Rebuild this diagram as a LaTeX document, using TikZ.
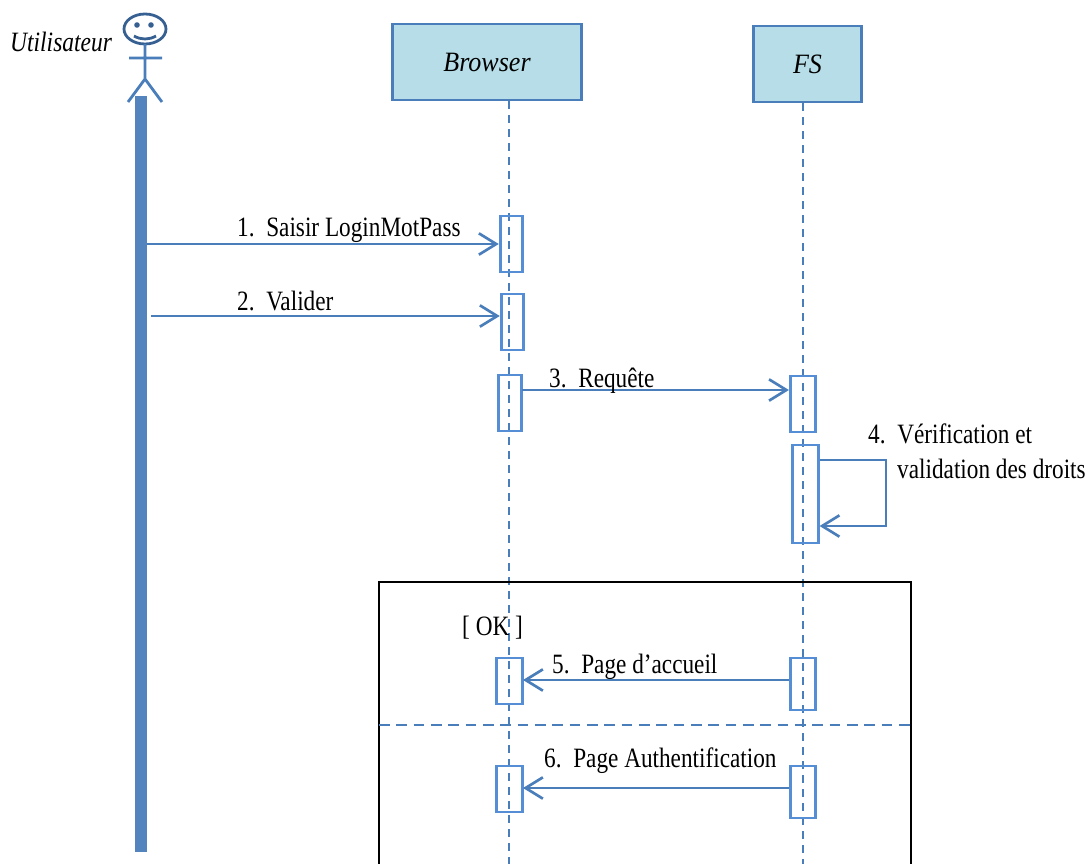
\documentclass[tikz,border=0pt]{standalone}
\usepackage{fontspec}
\setmainfont{Liberation Serif}
\usetikzlibrary{arrows.meta,calc}
\definecolor{linecol}{HTML}{4A7EBB}
\definecolor{actcol}{HTML}{558ED5}
\definecolor{headcol}{HTML}{B7DEE8}
\definecolor{actorcol}{HTML}{376092}
\tikzset{>={Straight Barb[length=13pt,width=16pt]}}
\tikzset{
  head/.style={draw=linecol,line width=2.1pt,fill=headcol,inner sep=0pt,font=\fontsize{21}{24}\selectfont\itshape},
  act/.style={draw=actcol,line width=2.1pt,fill=none,minimum width=17pt,inner sep=0pt},
  lifeline/.style={linecol,line width=1.5pt,dash pattern=on 6pt off 4.5pt},
  msg/.style={->,linecol,line width=2pt},
  lbl/.style={inner sep=0pt,anchor=base west,xscale=.83,font=\fontsize{21}{24}\selectfont},
}
\begin{document}
\begin{tikzpicture}[x=.75pt,y=-.75pt]
\useasboundingbox (0,0) rectangle (1090,864);
% actor
\node[lbl,xscale=1.01,font=\fontsize{21}{24}\selectfont\itshape] (user) at (10,51) {Utilisateur};
\draw[actorcol,line width=2.1pt] (145,29) ellipse (21 and 15);
\fill[actorcol] (137,25) circle (2.8) (151,25) circle (2.8);
\draw[actorcol,line width=2.1pt] (134,36) .. controls (141,40) and (149,40) .. (156,36);
\draw[linecol,line width=2.1pt] (145,44) -- (145,79) (129,58) -- (162,58) (128,102) -- (145,79) -- (162,102);
\node[fill=linecol!95!white,minimum width=9pt,minimum height=567pt,inner sep=0pt] (bar) at (141,474) {};
% lifelines
\node[head,minimum width=142pt,minimum height=57pt] (browser) at (487,62) {\scalebox{.93}[1]{Browser}};
\node[head,minimum width=81pt,minimum height=57pt] (fs) at (807.5,64) {\scalebox{.93}[1]{FS}};
\coordinate (endb) at (508.5,864);
\coordinate (endf) at (802.5,864);
\draw[lifeline] (browser.south -| endb) -- (endb);
\draw[lifeline] (fs.south -| endf) -- (endf);
% activations
\node[act,minimum height=42pt] (b1) at (511.5,244) {};
\node[act,minimum height=42pt] (b2) at (512.5,322) {};
\node[act,minimum height=42pt] (b3) at (510,403) {};
\node[act,minimum width=19pt,minimum height=42pt] (f3) at (803,404) {};
\node[act,minimum width=19pt,minimum height=73.5pt] (f4) at (805.5,494) {};
\node[act,minimum width=19pt,minimum height=34.5pt] (b5) at (509.5,681) {};
\node[act,minimum width=19pt,minimum height=39pt] (f5) at (803,684) {};
\node[act,minimum width=19pt,minimum height=34.5pt] (b6) at (509.5,789) {};
\node[act,minimum width=19pt,minimum height=39pt] (f6) at (803,792) {};
% messages
\coordinate (m1) at (147,244);
\coordinate (m2) at (151,316);
\coordinate (m3) at (522,390);
\coordinate (m4a) at (886,460);
\coordinate (m4b) at (886,526);
\coordinate (m5) at (523,680);
\coordinate (m6) at (523,788);
\draw[msg] (m1) -- (m1 -| b1.west);
\draw[msg] (m2) -- (m2 -| b2.west);
\draw[msg] (m3) -- (m3 -| f3.west);
\draw[msg] (m4a -| f4.east) -- (m4a) -- (m4b) -- (m4b -| f4.east);
\draw[msg] (m5 -| f5.west) -- (m5);
\draw[msg] (m6 -| f6.west) -- (m6);
\node[lbl] (t1) at (237,236) {1.\ \ Saisir LoginMotPass};
\node[lbl] (t2) at (237,310) {2.\ \ Valider};
\node[lbl] (t3) at (549,387) {3.\ \ Requête};
\node[lbl] (t4) at (868,443) {4.\ \ Vérification et};
\node[lbl] (t4b) at (897,478) {validation des droits};
\node[lbl] (t5) at (552,673) {5.\ \ Page d’accueil};
\node[lbl] (t6) at (544,767) {6.\ \ Page Authentification};
% alt frame
\coordinate (fa) at (379,582);
\coordinate (fb) at (911,864);
\draw[line width=1.9pt] (fa |- fb) -- (fa) -- (fa -| fb) -- (fb);
\draw[linecol,line width=1.9pt,dash pattern=on 8pt off 5pt] (fa |- 0,725) -- (fb |- 0,725);
\node[lbl] (ok) at (462,635) {[ OK ]};
\end{tikzpicture}
\end{document}
